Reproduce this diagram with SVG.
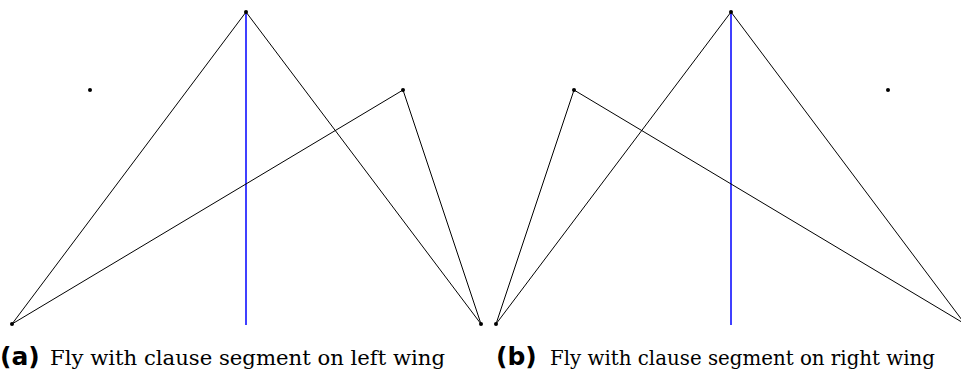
<svg xmlns="http://www.w3.org/2000/svg" width="961" height="374" viewBox="0 0 961 374">
<style>
.e{stroke:#000;stroke-width:1;fill:none}
.ax{stroke:#0000ff;stroke-width:1.5}
.p{fill:#000}
.lab{font-family:"DejaVu Sans",sans-serif;font-weight:bold;font-size:25px}
.cap{font-family:"DejaVu Serif","Liberation Serif",serif;font-size:21px}
</style>
<rect width="961" height="374" fill="#fff"/>
<g id="connectors">
<line class="ax" x1="246" y1="12" x2="246" y2="325"/>
<line class="e" x1="12" y1="324" x2="246" y2="12"/>
<line class="e" x1="246" y1="12" x2="481" y2="324"/>
<line class="e" x1="12" y1="324" x2="403" y2="90"/>
<line class="e" x1="403" y1="90" x2="481" y2="324"/>
<line class="ax" x1="731" y1="12" x2="731" y2="325"/>
<line class="e" x1="496" y1="324" x2="731" y2="12"/>
<line class="e" x1="731" y1="12" x2="965" y2="324"/>
<line class="e" x1="496" y1="324" x2="574" y2="90"/>
<line class="e" x1="574" y1="90" x2="965" y2="324"/>
</g>
<g id="a-top"><circle class="p" cx="246" cy="12" r="2"/></g>
<g id="a-left"><circle class="p" cx="12" cy="324" r="2"/></g>
<g id="a-right"><circle class="p" cx="481" cy="324" r="2"/></g>
<g id="a-wing"><circle class="p" cx="403" cy="90" r="2"/></g>
<g id="a-iso"><circle class="p" cx="90" cy="90" r="2"/></g>
<g id="b-top"><circle class="p" cx="731" cy="12" r="2"/></g>
<g id="b-left"><circle class="p" cx="496" cy="324" r="2"/></g>
<g id="b-wing"><circle class="p" cx="574" cy="90" r="2"/></g>
<g id="b-iso"><circle class="p" cx="888" cy="90" r="2"/></g>
<g id="cap-a"><text class="lab" x="0" y="365">(a)</text><text class="cap" x="50" y="365" textLength="395" lengthAdjust="spacingAndGlyphs">Fly with clause segment on left wing</text></g>
<g id="cap-b"><text class="lab" x="496" y="365">(b)</text><text class="cap" x="550" y="365" textLength="385" lengthAdjust="spacingAndGlyphs">Fly with clause segment on right wing</text></g>
</svg>
